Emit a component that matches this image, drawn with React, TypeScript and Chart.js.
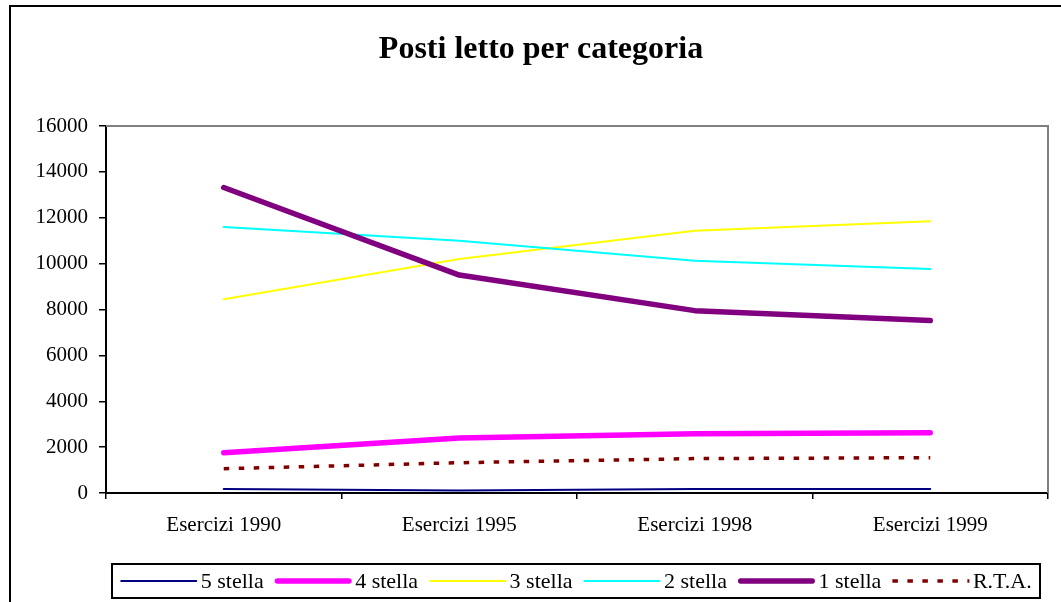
import React, { useEffect, useRef } from 'react';
import { Chart, registerables } from 'chart.js';

Chart.register(...registerables);

// ---- data ----
const categories = ['Esercizi 1990', 'Esercizi 1995', 'Esercizi 1998', 'Esercizi 1999'];
const seriesNames = ['5 stella', '4 stella', '3 stella', '2 stella', '1 stella', 'R.T.A.'];
const stella5 = [170, 110, 170, 170];
const stella4 = [1750, 2400, 2580, 2630];
const stella3 = [8450, 10200, 11430, 11850];
const stella2 = [11600, 11000, 10130, 9770];
const stella1 = [13320, 9500, 7950, 7520];
const rta = [1060, 1320, 1500, 1540];
const yMin = 0;
const yMax = 16000;
const yStep = 2000;
const titleText = 'Posti letto per categoria';

const FONT = "'Liberation Serif', 'Times New Roman', Times, serif";

const plotFrame = {
  id: 'plotFrame',
  beforeDatasetsDraw(chart: any) {
    const { ctx, chartArea } = chart;
    const { left, top, right, bottom } = chartArea;
    ctx.save();
    ctx.strokeStyle = '#808080';
    ctx.lineWidth = 2;
    ctx.beginPath();
    ctx.moveTo(left, top);
    ctx.lineTo(right, top);
    ctx.lineTo(right, bottom);
    ctx.stroke();
    ctx.restore();
  },
};

const boxLegend = {
  id: 'boxLegend',
  afterDraw(chart: any) {
    const ctx = chart.ctx as CanvasRenderingContext2D;
    const box = { left: 112, top: 564, right: 1040, bottom: 598 };
    ctx.save();
    ctx.font = `22px ${FONT}`;
    const items = chart.data.datasets.map((ds: any) => ({
      ds,
      text: ds.label as string,
      w: ctx.measureText(ds.label).width,
    }));
    const lineLen = 77;
    const gapLT = 3.5;
    const gapItem = 11;
    const total =
      items.reduce((s: number, it: any) => s + lineLen + gapLT + it.w, 0) +
      gapItem * (items.length - 1);
    let x = (box.left + box.right) / 2 - total / 2;
    const cy = (box.top + box.bottom) / 2;
    ctx.fillStyle = '#ffffff';
    ctx.fillRect(box.left, box.top, box.right - box.left, box.bottom - box.top);
    ctx.strokeStyle = '#000000';
    ctx.lineWidth = 2;
    ctx.strokeRect(box.left, box.top, box.right - box.left, box.bottom - box.top);
    items.forEach((it: any) => {
      const ds = it.ds;
      ctx.save();
      ctx.strokeStyle = ds.borderColor;
      ctx.lineWidth = ds.borderWidth;
      ctx.setLineDash(ds.borderDash || []);
      ctx.lineCap = ds.borderDash ? 'butt' : 'round';
      const inset = ds.borderDash ? 0 : ds.borderWidth / 2;
      ctx.beginPath();
      ctx.moveTo(x + inset, cy);
      ctx.lineTo(x + lineLen - inset, cy);
      ctx.stroke();
      ctx.restore();
      ctx.fillStyle = '#000000';
      ctx.textBaseline = 'middle';
      ctx.textAlign = 'left';
      ctx.fillText(it.text, x + lineLen + gapLT, cy + 1);
      x += lineLen + gapLT + it.w + gapItem;
    });
    ctx.restore();
  },
};

export default function App() {
  const canvasRef = useRef<HTMLCanvasElement | null>(null);

  useEffect(() => {
    if (!canvasRef.current) return;
    const mk = (
      label: string,
      data: number[],
      color: string,
      width: number,
      order: number,
      dash?: number[]
    ) => ({
      label,
      data,
      borderColor: color,
      backgroundColor: color,
      borderWidth: width,
      borderDash: dash,
      borderCapStyle: dash ? 'butt' : 'round',
      borderJoinStyle: 'round',
      pointRadius: 0,
      pointHoverRadius: 0,
      fill: false,
      tension: 0,
      order,
    });
    const chart = new Chart(canvasRef.current, {
      type: 'line',
      data: {
        labels: categories,
        datasets: [
          mk(seriesNames[0], stella5, '#000080', 2, 6),
          mk(seriesNames[1], stella4, '#ff00ff', 5.5, 5),
          mk(seriesNames[2], stella3, '#ffff00', 2, 4),
          mk(seriesNames[3], stella2, '#00ffff', 2, 3),
          mk(seriesNames[4], stella1, '#800080', 5.5, 2),
          mk(seriesNames[5], rta, '#800000', 3.5, 1, [5.5, 9.5]),
        ] as any,
      },
      options: {
        responsive: false,
        animation: false,
        devicePixelRatio: 1,
        layout: { padding: { left: 34, right: 13, top: 0, bottom: 0 } },
        plugins: {
          legend: { display: false },
          tooltip: { enabled: false },
          title: {
            display: true,
            text: titleText,
            color: '#000000',
            font: { family: FONT, size: 32, weight: 'bold' },
            padding: { top: 31, bottom: 56.6 },
          },
        },
        scales: {
          x: {
            type: 'category',
            offset: true,
            grid: {
              display: true,
              offset: true,
              drawOnChartArea: false,
              drawTicks: true,
              tickLength: 6,
              color: '#000000',
              lineWidth: 1.5,
            },
            border: { display: true, color: '#000000', width: 2 },
            ticks: {
              color: '#000000',
              font: { family: FONT, size: 21 },
              padding: 14,
              maxRotation: 0,
              autoSkip: false,
            },
            afterFit(scale: any) {
              scale.height = 109;
            },
          },
          y: {
            min: yMin,
            max: yMax,
            grid: {
              display: true,
              drawOnChartArea: false,
              drawTicks: true,
              tickLength: 7,
              color: '#000000',
              lineWidth: 1.5,
            },
            border: { display: true, color: '#000000', width: 2 },
            ticks: {
              stepSize: yStep,
              color: '#000000',
              font: { family: FONT, size: 21 },
              padding: 11,
              callback: (v: any) => String(v),
            },
            afterFit(scale: any) {
              scale.width = 72;
            },
          },
        },
      } as any,
      plugins: [plotFrame, boxLegend],
    });
    return () => chart.destroy();
  }, []);

  return (
    <div
      style={{
        position: 'fixed',
        left: 0,
        top: 0,
        width: 1061,
        height: 602,
        overflow: 'hidden',
        background: '#ffffff',
      }}
    >
      <div
        style={{
          position: 'absolute',
          left: 9,
          top: 5,
          width: 1200,
          height: 800,
          border: '2px solid #000000',
          boxSizing: 'border-box',
        }}
      />
      <canvas
        ref={canvasRef}
        width={1061}
        height={602}
        style={{ position: 'absolute', left: 0, top: 0, width: 1061, height: 602 }}
      />
    </div>
  );
}
